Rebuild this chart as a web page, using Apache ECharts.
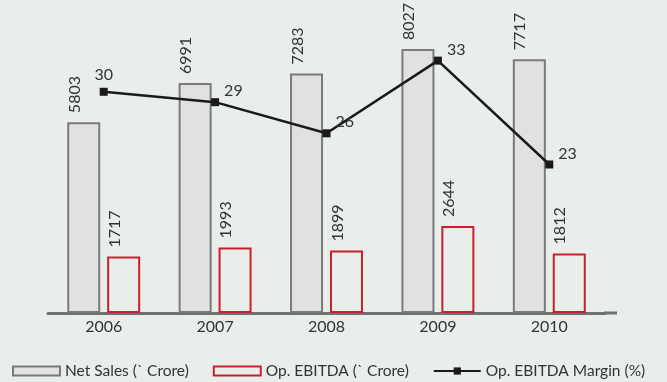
<!DOCTYPE html>
<html>
<head>
<meta charset="utf-8">
<script src="https://cdn.jsdelivr.net/npm/echarts@6/dist/echarts.min.js"></script>
<style>
  html, body { margin: 0; padding: 0; background: #e9eeeb; }
  #chart { width: 667px; height: 382px; }
</style>
</head>
<body>
<div id="chart"></div>
<script>
// Yearly figures
const years = ['2006', '2007', '2008', '2009', '2010'];
const netSales = [5803, 6991, 7283, 8027, 7717];     // ` Crore
const opEbitda = [1717, 1993, 1899, 2644, 1812];     // ` Crore
const opMargin = [30, 29, 26, 33, 23];               // %

const FONT = 'Lato, "Open Sans", sans-serif';
const TEXT = '#333333';

const chart = echarts.init(document.getElementById('chart'));

const barLabel = {
  show: true,
  position: 'top',
  rotate: 90,
  align: 'left',
  verticalAlign: 'middle',
  distance: 9,
  offset: [0, -9],
  color: TEXT,
  fontFamily: FONT,
  fontSize: 16
};

chart.setOption({
  backgroundColor: '#e9eeeb',
  animation: false,
  textStyle: { fontFamily: FONT, color: TEXT },
  grid: { left: 48, right: 62, top: 17, bottom: 69 },
  legend: {
    left: 12,
    bottom: 3,
    width: 655,
    padding: 0,
    itemWidth: 47,
    itemHeight: 9,
    itemGap: 24,
    textStyle: { fontFamily: FONT, fontSize: 15.5, color: TEXT },
    data: [
      { name: 'Net Sales (` Crore)', icon: 'rect' },
      { name: 'Op. EBITDA (` Crore)', icon: 'rect' },
      { name: 'Op. EBITDA Margin (%)' }
    ]
  },
  xAxis: {
    type: 'category',
    data: years,
    axisLine: { lineStyle: { color: '#707070', width: 3 } },
    axisTick: { show: false },
    axisLabel: { color: TEXT, fontFamily: FONT, fontSize: 16, margin: 6 }
  },
  yAxis: [
    { type: 'value', min: 0, max: 9000, show: false, splitLine: { show: false } },
    { type: 'value', min: 8.7, max: 37.2, show: false, splitLine: { show: false } }
  ],
  series: [
    {
      name: 'Net Sales (` Crore)',
      type: 'bar',
      data: netSales,
      barWidth: 33,
      barGap: '21%',
      itemStyle: { color: '#e1e1e1', borderColor: '#7a7a7a', borderWidth: 2 },
      label: barLabel
    },
    {
      name: 'Op. EBITDA (` Crore)',
      type: 'bar',
      data: opEbitda,
      barWidth: 33,
      itemStyle: { color: 'rgba(0,0,0,0)', borderColor: '#c8202f', borderWidth: 2 },
      label: barLabel
    },
    {
      name: 'Op. EBITDA Margin (%)',
      type: 'line',
      yAxisIndex: 1,
      data: opMargin.map((v, i) => i === 0 ? { value: v, label: { position: 'top', offset: [0, 0] } } : v),
      symbol: 'rect',
      symbolSize: 8,
      lineStyle: { color: '#1a1a1a', width: 2.5 },
      itemStyle: { color: '#1a1a1a' },
      z: 5,
      label: {
        show: true,
        position: 'right',
        distance: 5,
        offset: [0, -11],
        color: TEXT,
        fontFamily: FONT,
        fontSize: 16
      }
    }
  ],
  graphic: [
    {
      // baseline continues a little past the last category
      type: 'line',
      shape: { x1: 604, y1: 313, x2: 617, y2: 313 },
      style: { stroke: '#707070', lineWidth: 3 }
    }
  ]
});
</script>
</body>
</html>
